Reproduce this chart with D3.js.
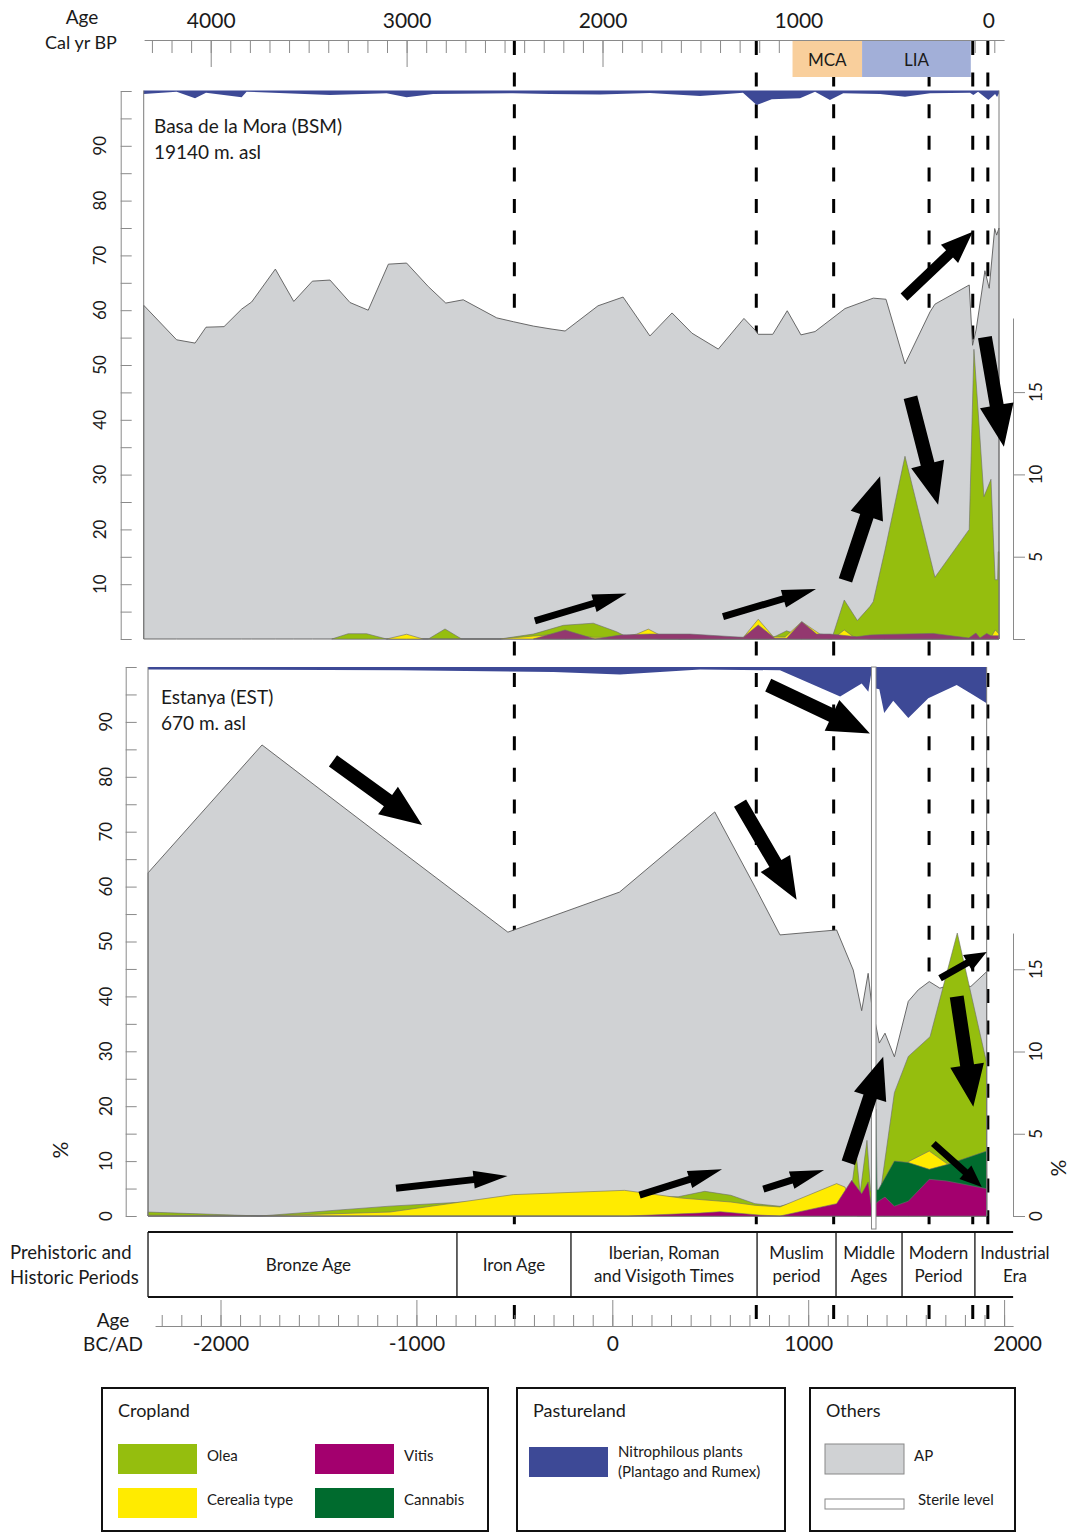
<!DOCTYPE html>
<html><head><meta charset="utf-8">
<script src="https://cdn.jsdelivr.net/npm/d3@7"></script>
<style>
body{margin:0;background:#fff}
svg{display:block}
text{font-family:Lato,"Liberation Sans",sans-serif;fill:#1a1a1a}
</style></head><body>
<svg id="chart" width="1069" height="1533"></svg>
<script>
// ---------------- data (years: calendar AD, negative = BC; values in %) ----------------
// Basa de la Mora (BSM)
const bsmAP = [[-2392,60.9],[-2224,54.6],[-2130,54.0],[-2074,56.9],[-1982,57.0],[-1892,60.2],[-1841,61.5],[-1720,67.5],[-1626,61.6],[-1531,65.3],[-1441,65.5],[-1339,61.4],[-1246,60.0],[-1143,68.4],[-1050,68.6],[-939,64.3],[-850,61.3],[-761,61.9],[-590,58.6],[-505,57.9],[-403,57.1],[-318,56.6],[-241,56.2],[-73,60.8],[55,62.4],[192,55.3],[305,59.5],[407,55.8],[541,52.9],[672,58.5],[728,56.4],[745,55.6],[819,55.6],[893,59.9],[963,55.5],[1035,56.1],[1188,60.3],[1332,62.2],[1397,62.0],[1494,50.2],[1622,59.7],[1647,61.1],[1822,64.6],[1839,53.6],[1857,56.4],[1902,67.2],[1924,64.0],[1952,74.9],[1962,73.7],[1974,75.0]];
const bsmOlea = [[-1432,0],[-1348,0.32],[-1254,0.32],[-1152,0],[-939,0],[-854,0.61],[-769,0],[-573,0],[-403,0.3],[-250,0.83],[-97,0.96],[22,0.44],[56,0.24],[141,0.1],[243,0],[800,0],[839,0.2],[890,0.5],[958,0.2],[1120,0],[1184,2.37],[1251,1.12],[1315,1.97],[1332,2.27],[1392,5.4],[1494,11.1],[1647,3.75],[1822,6.66],[1846,17.6],[1897,8.65],[1933,9.7],[1954,3.6],[1967,3.6],[1970,5.3],[1974,5.3]];
const bsmCerealia = [[-1152,0],[-1050,0.29],[-965,0],[-573,0],[-403,0.18],[-250,0.3],[-98,0.1],[40,0.1],[125,0.3],[184,0.6],[243,0.24],[346,0],[669,0.1],[745,1.2],[822,0.14],[882,0.12],[967,1.05],[1060,0.3],[1145,0.18],[1184,0.55],[1230,0.14],[1315,0],[1928,0],[1955,0.55],[1974,0.3]];
const bsmVitis = [[-403,0],[-241,0.55],[-88,0],[40,0.24],[192,0.3],[396,0.3],[616,0.14],[669,0.1],[745,0.85],[830,0.05],[890,0.04],[967,1.05],[1043,0.3],[1111,0.3],[1247,0.14],[1315,0.24],[1392,0.28],[1637,0.34],[1820,0.06],[1856,0.36],[1877,0.06],[1911,0.34],[1933,0.2],[1974,0.2]];
const bsmNitro = [[-2392,0.21],[-2224,0.07],[-2130,0.47],[-2074,0.13],[-1892,0.41],[-1867,0.07],[-1441,0.27],[-1152,0.17],[-1050,0.41],[-915,0.21],[-507,0.17],[-318,0.21],[-63,0.25],[192,0.15],[448,0.33],[667,0.13],[737,0.88],[814,0.53],[958,0.47],[1035,0.07],[1111,0.58],[1179,0.17],[1367,0.21],[1494,0.38],[1622,0.17],[1826,0.13],[1843,0.27],[1867,0.07],[1920,0.58],[1954,0.21],[1964,0.4],[1974,0.17]];

// Estanya (EST)
const estAP = [[-2370,62.5],[-1788,85.8],[-1135,68.0],[-533,51.7],[37,59.0],[523,73.6],[729,59.9],[856,51.2],[1145,52.1],[1230,44.8],[1273,37.4],[1306,44.2],[1323,38.8],[1363,31.5],[1392,33.3],[1440,29.0],[1511,39.1],[1562,41.2],[1618,42.7],[1672,41.5],[1750,42.3],[1830,41.8],[1911,44.5]];
const estOlea = [[-2370,0.24],[-1800,0],[-1135,0.6],[-533,1.0],[37,1.2],[336,1.17],[472,1.5],[605,1.26],[728,0.75],[856,0.59],[1145,1.5],[1188,1.0],[1220,1.6],[1245,3.8],[1265,1.4],[1300,4.6],[1318,1.6],[1346,0.3],[1358,0.55],[1440,7.5],[1511,9.7],[1622,10.9],[1761,17.2],[1911,9.3]];
const estCerealia = [[-2370,0.05],[-1800,0],[-1135,0.24],[-505,1.3],[62,1.56],[352,1.09],[605,0.85],[728,0.65],[856,0.55],[1145,1.97],[1188,1.76],[1215,0.9],[1250,0],[1346,0],[1358,0.5],[1440,2.0],[1511,3.3],[1618,3.95],[1706,3.2],[1911,2.5]];
const estCannabis = [[1336,0],[1346,6.5],[1352,1.6],[1358,1.6],[1440,3.34],[1511,3.25],[1618,2.84],[1713,3.14],[1911,3.95]];
const estVitis = [[-2370,0],[80,0],[448,0.18],[551,0.26],[760,0.05],[856,0],[1145,0.75],[1222,2.17],[1273,1.36],[1306,2.07],[1323,0.5],[1358,0.9],[1392,1.15],[1440,0.6],[1511,0.9],[1618,2.23],[1706,2.13],[1911,1.66]];
const estNitro = [[-2370,0.15],[-1084,0.2],[-300,0.3],[39,0.45],[448,0.15],[856,0.2],[1163,1.8],[1273,1.0],[1307,1.5],[1323,0.3],[1346,1.3],[1363,1.35],[1388,2.8],[1434,2.05],[1511,3.1],[1613,1.9],[1758,1.1],[1843,1.7],[1911,2.2]];
const estSterile = [1323, 1346];

// climate episodes on the cal yr BP scale
const climateNames = ["MCA","LIA"];
const climateBP = [[1030,675],[675,120]];

// period boundaries (AD) and names
const periodStarts = [-2370,-793,-211,739,1142,1479,1851];
const periodEnd = 2260;
const periodNames = [["Bronze Age"],["Iron Age"],["Iberian, Roman","and Visigoth Times"],["Muslim","period"],["Middle","Ages"],["Modern","Period"],["Industrial","Era"]];
const boundaryYears = [-500,735,1130,1617,1840,1917];

// trend arrows: [year, value] from -> to, on each panel's AP scale
const bsmArrows = [
  {from:[1489,62.4],to:[1840,74.3],size:"medium"},
  {from:[1902,55.1],to:[1999,35.1],size:"large"},
  {from:[1522,44.1],to:[1663,24.5],size:"large"},
  {from:[1190,10.7],to:[1367,29.7],size:"large"},
  {from:[-395,3.3],to:[73,8.3],size:"small"},
  {from:[565,4.1],to:[1040,9.1],size:"small"}
];
const estArrows = [
  {from:[796,96.7],to:[1315,87.9],size:"large"},
  {from:[-1426,82.9],to:[-971,71.2],size:"large"},
  {from:[652,75.2],to:[941,57.6],size:"large"},
  {from:[-1104,5.05],to:[-535,7.3],size:"small"},
  {from:[139,3.8],to:[560,8.5],size:"small"},
  {from:[771,4.9],to:[1081,8.4],size:"small"},
  {from:[1205,9.7],to:[1383,29.0],size:"large"},
  {from:[1673,43.3],to:[1911,48.1],size:"tiny"},
  {from:[1758,40.0],to:[1843,19.9],size:"large"},
  {from:[1639,13.2],to:[1886,5.3],size:"tiny"}
];

// tick values
const apTicks = d3.range(0,101,5);
const apLabelsTop = d3.range(10,91,10);
const apLabelsBot = d3.range(0,91,10);
const cropTicks = [0,5,10,15];
const bpTicks = d3.range(0,4301,100);
const bpLabels = [4000,3000,2000,1000,0];
const adTicks = d3.range(-2300,2001,100);
const adLabels = [-2000,-1000,0,1000,2000];

// ---------------- styles ----------------
const C = {
  ap:"#d0d2d4", apStroke:"#5a5a5a", olea:"#95be0e", cerealia:"#ffeb00",
  vitisTop:"#93386f", vitis:"#a3006e", cannabis:"#006b2e", nitro:"#3d4996",
  mca:"#f9cf9c", lia:"#a2afd8", axis:"#8a8a8a"
};
const arrowSize = {
  large:{shaft:14,head:34,len:42},
  medium:{shaft:10,head:25,len:32},
  small:{shaft:7,head:18,len:34},
  tiny:{shaft:7,head:18,len:22}
};
const plain = d => String(d);

// ---------------- scales ----------------
const x = d3.scaleLinear().domain([-2000,2000]).range([220.5,1004.1]);
const xBP = d3.scaleLinear().domain([-50,4340]).range([x(2000),x(1950-4340)]);

const panels = [
  {ap:bsmAP, nitro:bsmNitro,
   crops:[{d:bsmOlea,c:C.olea},{d:bsmCerealia,c:C.cerealia},{d:bsmVitis,c:C.vitisTop}],
   y:d3.scaleLinear().domain([0,100]).range([639,91]),
   yc:d3.scaleLinear().domain([0,20]).range([639,639-20*16.46]),
   yn:d3.scaleLinear().domain([0,5]).range([90.5,90.5+5*16.46]),
   axX:120.7, labX:100, labels:apLabelsTop, rAxTop:19.5, rLabels:[5,10,15],
   arrows:bsmArrows, title:["Basa de la Mora (BSM)","19140 m. asl"], titleX:154, titleY:126},
  {ap:estAP, nitro:estNitro,
   crops:[{d:estOlea,c:C.olea},{d:estCerealia,c:C.cerealia},{d:estCannabis,c:C.cannabis},{d:estVitis,c:C.vitis}],
   y:d3.scaleLinear().domain([0,100]).range([1216,667]),
   yc:d3.scaleLinear().domain([0,20]).range([1216,1216-20*16.45]),
   yn:d3.scaleLinear().domain([0,5]).range([667,667+5*16.45]),
   axX:125.7, labX:106, labels:apLabelsBot, rAxTop:17.2, rLabels:[0,5,10,15],
   arrows:estArrows, title:["Estanya (EST)","670 m. asl"], titleX:161, titleY:697, sterile:estSterile}
];

const svg = d3.select("#chart");

// ---------------- period boundary dashed lines (behind everything) ----------------
svg.append("g").selectAll("line").data(boundaryYears).join("line")
  .attr("x1",d=>x(d)).attr("x2",d=>x(d)).attr("y1",41).attr("y2",1328)
  .attr("stroke","#000").attr("stroke-width",3).attr("stroke-dasharray","14 17.6");

// ---------------- top BP axis ----------------
const gTop = svg.append("g").attr("transform","translate(0,40)");
gTop.call(d3.axisBottom(xBP).tickValues(bpTicks).tickSize(13).tickSizeOuter(0).tickFormat(""));
gTop.append("g").call(d3.axisBottom(xBP).tickValues([4000,3000,2000]).tickSize(27).tickSizeOuter(0).tickFormat(""))
  .select(".domain").remove();
gTop.selectAll("line,path").attr("stroke",C.axis).attr("stroke-width",1);
const gTopL = svg.append("g").attr("transform","translate(0,40)")
  .call(d3.axisTop(xBP).tickValues(bpLabels).tickSize(0).tickPadding(12).tickFormat(plain));
gTopL.select(".domain").remove();
gTopL.selectAll("text").attr("font-size",21).attr("font-family","Lato").attr("fill","#1a1a1a")
  .attr("dx",d=>d===0?-6:0);

// climate episodes
const gClim = svg.append("g");
climateBP.forEach((b,i)=>{
  const x0 = xBP(b[0]), x1 = xBP(b[1]);
  gClim.append("rect").attr("x",x0).attr("y",41).attr("width",x1-x0).attr("height",36)
    .attr("fill",i===0?C.mca:C.lia);
  gClim.append("text").attr("x",(x0+x1)/2).attr("y",66).attr("text-anchor","middle")
    .attr("font-size",17).text(climateNames[i]);
});
svg.append("text").attr("x",82).attr("y",24).attr("text-anchor","middle").attr("font-size",19).text("Age");
svg.append("text").attr("x",81).attr("y",49).attr("text-anchor","middle").attr("font-size",18).text("Cal yr BP");

// ---------------- panels ----------------
function arrowPath(p0,p1,s){
  const dx=p1[0]-p0[0], dy=p1[1]-p0[1], L=Math.hypot(dx,dy);
  const ux=dx/L, uy=dy/L, nx=-uy, ny=ux;
  const bx=p1[0]-ux*s.len, by=p1[1]-uy*s.len;
  const w=s.shaft/2, h=s.head/2;
  const pts=[[p0[0]+nx*w,p0[1]+ny*w],[bx+nx*w,by+ny*w],[bx+nx*h,by+ny*h],p1,
             [bx-nx*h,by-ny*h],[bx-nx*w,by-ny*w],[p0[0]-nx*w,p0[1]-ny*w]];
  return "M"+pts.map(p=>p[0].toFixed(1)+","+p[1].toFixed(1)).join("L")+"Z";
}

panels.forEach(P=>{
  const g = svg.append("g");
  const base = P.y(0);
  const first = P.ap[0][0], last = P.ap[P.ap.length-1][0];

  // AP
  g.append("path").datum(P.ap)
    .attr("d",d3.area().x(d=>x(d[0])).y0(base).y1(d=>P.y(d[1])))
    .attr("fill",C.ap).attr("stroke",C.apStroke).attr("stroke-width",0.9);

  // crops on the secondary scale
  P.crops.forEach(cr=>{
    g.append("path").datum(cr.d)
      .attr("d",d3.area().x(d=>x(d[0])).y0(base).y1(d=>P.yc(d[1])))
      .attr("fill",cr.c).attr("stroke","#6b6b6b").attr("stroke-width",0.6);
  });

  // nitrophilous band hanging from the top
  g.append("path").datum(P.nitro)
    .attr("d",d3.area().x(d=>x(d[0])).y0(P.yn(0)).y1(d=>P.yn(d[1])))
    .attr("fill",C.nitro);

  // panel side lines
  [first,last].forEach(t=>{
    g.append("line").attr("x1",x(t)).attr("x2",x(t)).attr("y1",P.yn(0)).attr("y2",base)
      .attr("stroke","#7a7a7a").attr("stroke-width",1);
  });

  // sterile level
  if(P.sterile){
    g.append("rect").attr("x",x(P.sterile[0])).attr("y",P.yn(0))
      .attr("width",x(P.sterile[1])-x(P.sterile[0])).attr("height",base-P.yn(0)+13)
      .attr("fill","#fff").attr("stroke","#888").attr("stroke-width",1);
  }

  // left AP axis
  const gl = g.append("g").attr("transform",`translate(${P.axX},0)`)
    .call(d3.axisRight(P.y).tickValues(apTicks).tickSize(11).tickSizeOuter(0).tickFormat(""));
  gl.selectAll("line,path").attr("stroke",C.axis);
  g.append("g").selectAll("text").data(P.labels).join("text")
    .attr("transform",d=>`translate(${P.labX},${P.y(d)}) rotate(-90)`)
    .attr("text-anchor","middle").attr("dy","0.36em")
    .attr("font-family","DejaVu Sans").attr("font-size",17).text(d=>d);

  // right crop axis
  const yr = P.yc.copy().domain([0,P.rAxTop]).range([P.yc(0),P.yc(P.rAxTop)]);
  const gr = g.append("g").attr("transform","translate(1013,0)")
    .call(d3.axisRight(yr).tickValues(cropTicks).tickSize(12).tickSizeOuter(0).tickFormat(""));
  gr.selectAll("line,path").attr("stroke",C.axis);
  g.append("g").selectAll("text").data(P.rLabels).join("text")
    .attr("transform",d=>`translate(1036,${P.yc(d)}) rotate(-90)`)
    .attr("text-anchor","middle").attr("dy","0.36em")
    .attr("font-family","DejaVu Sans").attr("font-size",17).text(d=>d);

  // title
  P.title.forEach((t,i)=>{
    g.append("text").attr("x",P.titleX).attr("y",P.titleY+7+i*26)
      .attr("font-size",19).text(t);
  });

  // trend arrows
  g.append("g").selectAll("path").data(P.arrows).join("path")
    .attr("d",a=>arrowPath([x(a.from[0]),P.y(a.from[1])],[x(a.to[0]),P.y(a.to[1])],arrowSize[a.size]))
    .attr("fill","#000");
});

// % labels
svg.append("text").attr("transform","translate(60,1150) rotate(-90)").attr("text-anchor","middle")
  .attr("dy","0.36em").attr("font-size",21).text("%");
svg.append("text").attr("transform","translate(1058,1168) rotate(-90)").attr("text-anchor","middle")
  .attr("dy","0.36em").attr("font-size",21).text("%");

// ---------------- periods bar ----------------
const gPer = svg.append("g");
const barTop = 1232, barBot = 1297;
gPer.append("rect").attr("x",x(periodStarts[0])).attr("y",barTop)
  .attr("width",x(2046)-x(periodStarts[0])).attr("height",barBot-barTop).attr("fill","#fff");
[barTop,barBot].forEach(yv=>gPer.append("line").attr("x1",x(periodStarts[0])).attr("x2",x(2046))
  .attr("y1",yv).attr("y2",yv).attr("stroke","#111").attr("stroke-width",2));
periodStarts.forEach((s,i)=>{
  gPer.append("line").attr("x1",x(s)).attr("x2",x(s)).attr("y1",barTop).attr("y2",barBot)
    .attr("stroke","#111").attr("stroke-width",1.3);
  const e = i<periodStarts.length-1 ? periodStarts[i+1] : periodEnd;
  const cx = (x(s)+x(e))/2 + (i===0?6:0);
  const lines = periodNames[i];
  lines.forEach((t,j)=>{
    const cy = lines.length===1 ? 1265 : 1253+j*23;
    gPer.append("text").attr("x",cx).attr("y",cy).attr("dy","0.35em").attr("text-anchor","middle")
      .attr("font-size",17).text(t);
  });
});
svg.append("text").attr("x",10).attr("y",1259).attr("font-size",18.5).text("Prehistoric and");
svg.append("text").attr("x",10).attr("y",1284).attr("font-size",18.5).text("Historic Periods");

// ---------------- bottom BC/AD axis ----------------
const xAD = x.copy().domain([-2334,2046]).range([x(-2334),x(2046)]);
const gBot = svg.append("g").attr("transform","translate(0,1326)");
gBot.call(d3.axisTop(xAD).tickValues(adTicks).tickSize(11).tickSizeOuter(0).tickFormat(""));
gBot.append("g").call(d3.axisTop(xAD).tickValues(adLabels).tickSize(26).tickSizeOuter(0).tickFormat(""))
  .select(".domain").remove();
gBot.selectAll("line,path").attr("stroke",C.axis).attr("stroke-width",1);
const gBotL = svg.append("g").attr("transform","translate(0,1326)")
  .call(d3.axisBottom(xAD).tickValues(adLabels).tickSize(0).tickPadding(10).tickFormat(plain));
gBotL.select(".domain").remove();
gBotL.selectAll("text").attr("font-size",21).attr("font-family","Lato").attr("fill","#1a1a1a")
  .attr("dx",d=>d===2000?13:0);
svg.append("text").attr("x",113).attr("y",1327).attr("text-anchor","middle").attr("font-size",19).text("Age");
svg.append("text").attr("x",113).attr("y",1351).attr("text-anchor","middle").attr("font-size",19).text("BC/AD");

// ---------------- legend ----------------
const legendGroups = [
  {title:"Cropland", box:[102,1388,386,143], items:[
    {label:["Olea"], fill:C.olea, at:[118,1444]},
    {label:["Vitis"], fill:C.vitis, at:[315,1444]},
    {label:["Cerealia type"], fill:C.cerealia, at:[118,1488]},
    {label:["Cannabis"], fill:C.cannabis, at:[315,1488]}]},
  {title:"Pastureland", box:[517,1388,268,143], items:[
    {label:["Nitrophilous plants","(Plantago and Rumex)"], fill:C.nitro, at:[529,1447]}]},
  {title:"Others", box:[810,1388,205,143], items:[
    {label:["AP"], fill:C.ap, stroke:"#888", at:[825,1444]},
    {label:["Sterile level"], fill:"#fff", stroke:"#888", at:[825,1499], h:10}]}
];
const gLeg = svg.append("g");
legendGroups.forEach(G=>{
  gLeg.append("rect").attr("x",G.box[0]).attr("y",G.box[1]).attr("width",G.box[2]).attr("height",G.box[3])
    .attr("fill","none").attr("stroke","#111").attr("stroke-width",2);
  gLeg.append("text").attr("x",G.box[0]+16).attr("y",1417).attr("font-size",18).text(G.title);
  G.items.forEach(it=>{
    const h = it.h||30;
    gLeg.append("rect").attr("x",it.at[0]).attr("y",it.at[1]).attr("width",79).attr("height",h)
      .attr("fill",it.fill).attr("stroke",it.stroke||"none").attr("stroke-width",1);
    it.label.forEach((t,j)=>{
      const cy = it.label.length===1 ? it.at[1]+ (h===30?12:1) : it.at[1]+5+j*20;
      gLeg.append("text").attr("x",it.at[0]+89+(it.h?4:0)).attr("y",cy).attr("dy","0.35em")
        .attr("font-size",15).text(t);
    });
  });
});
</script>
</body></html>
